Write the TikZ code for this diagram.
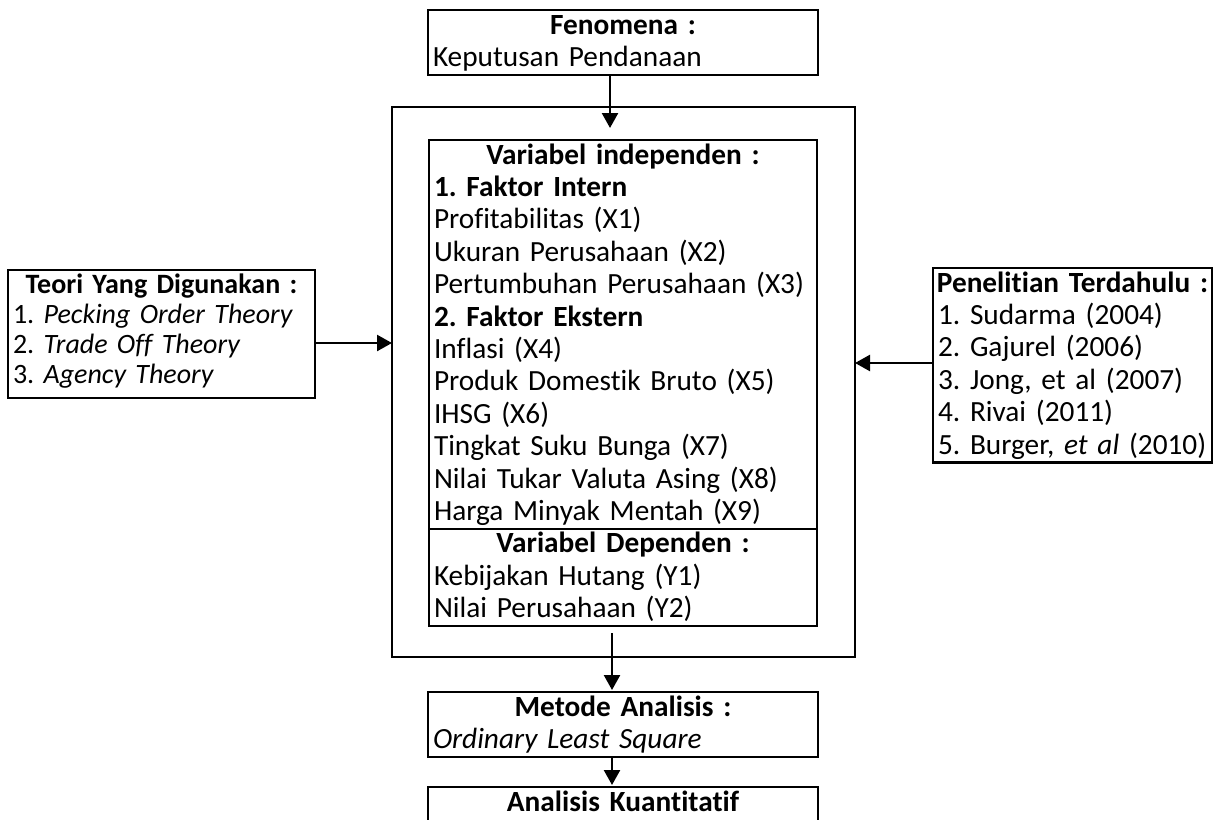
\documentclass[tikz,border=0pt]{standalone}
\usepackage{fontspec}
\setmainfont[Ligatures={NoCommon}]{Carlito}
\usetikzlibrary{arrows.meta}
\frenchspacing
\hyphenpenalty=10000
\newcommand\ls{\rule[-8.4pt]{0pt}{32.4pt}}
\newcommand\lt{\rule[-7pt]{0pt}{30pt}}
\newcommand\hd[1]{\makebox[\linewidth][c]{\ls\textbf{#1}}}
\begin{document}
\begin{tikzpicture}[x=1pt,y=-1pt,
  box/.style={draw, line width=2.6pt, inner xsep=5pt, inner ysep=0pt, outer sep=0pt,
    anchor=north west, align=left,
    font=\fontsize{29.3}{32.4}\selectfont\frenchspacing},
  frame/.style={draw, line width=2.6pt, inner sep=0pt, outer sep=0pt, anchor=north west},
  arr/.style={line width=2.4pt, -{Triangle[length=15pt,width=16pt]}}]
\useasboundingbox (0,0) rectangle (1214,819);
\clip (0,0) rectangle (1214,819);

\node[frame, minimum width=463pt, minimum height=550pt] (outer) at (392,107) {};

\node[box, text width=380pt] (fen) at (428,10)
  {\hd{Fenomena :}\\ \ls Keputusan Pendanaan};

\node[box, text width=378pt] (ind) at (429,140)
  {\hd{Variabel independen :}\\
   \ls\textbf{1. Faktor Intern}\\
   \ls Profitabilitas (X1)\\
   \ls Ukuran Perusahaan (X2)\\
   \ls Pertumbuhan Perusahaan (X3)\\
   \ls\textbf{2. Faktor Ekstern}\\
   \ls Inflasi (X4)\\
   \ls Produk Domestik Bruto (X5)\\
   \ls IHSG (X6)\\
   \ls Tingkat Suku Bunga (X7)\\
   \ls Nilai Tukar Valuta Asing (X8)\\
   \ls Harga Minyak Mentah (X9)};

\node[box, text width=378pt] (dep) at (ind.south west)
  {\hd{Variabel Dependen :}\\
   \ls Kebijakan Hutang (Y1)\\
   \ls Nilai Perusahaan (Y2)};

\node[box, text width=297pt, font=\fontsize{28}{30}\selectfont\frenchspacing] (teori) at (8,270)
  {\makebox[\linewidth][c]{\lt\textbf{Teori Yang Digunakan :}}\\
   \mbox{\lt 1. \textit{Pecking Order Theory}}\\
   \mbox{\lt 2. \textit{Trade Off Theory}}\\
   \mbox{\rule[-15pt]{0pt}{38pt}3. \textit{Agency Theory}}};

\node[box, text width=269pt] (pen) at (933,268)
  {\hd{Penelitian Terdahulu :}\\
   \ls 1. Sudarma (2004)\\
   \ls 2. Gajurel (2006)\\
   \ls 3. Jong, et al (2007)\\
   \ls 4. Rivai (2011)\\
   \ls \mbox{5. Burger, \textit{et al} (2010)}};

\node[box, text width=380pt] (met) at (428,692)
  {\hd{Metode Analisis :}\\ \ls\textit{Ordinary Least Square}};

\node[box, text width=380pt] (ak) at (428,787)
  {\makebox[\linewidth][c]{\rule[-40.8pt]{0pt}{64.8pt}\textbf{Analisis Kuantitatif}}};

\coordinate (ax) at (610,0);
\coordinate (bx) at (612,0);
\coordinate (ly) at (0,343);
\coordinate (ry) at (0,363);

\draw[arr] (fen.south -| ax) -- ([yshift=12pt]ind.north -| ax);
\draw[arr] ([yshift=-7pt]dep.south -| bx) -- ([yshift=2pt]met.north -| bx);
\draw[arr] (met.south -| bx) -- ([yshift=2pt]ak.north -| bx);
\draw[arr] (teori.east |- ly) -- (outer.west |- ly);
\draw[arr] (pen.west |- ry) -- (outer.east |- ry);
\end{tikzpicture}
\end{document}
